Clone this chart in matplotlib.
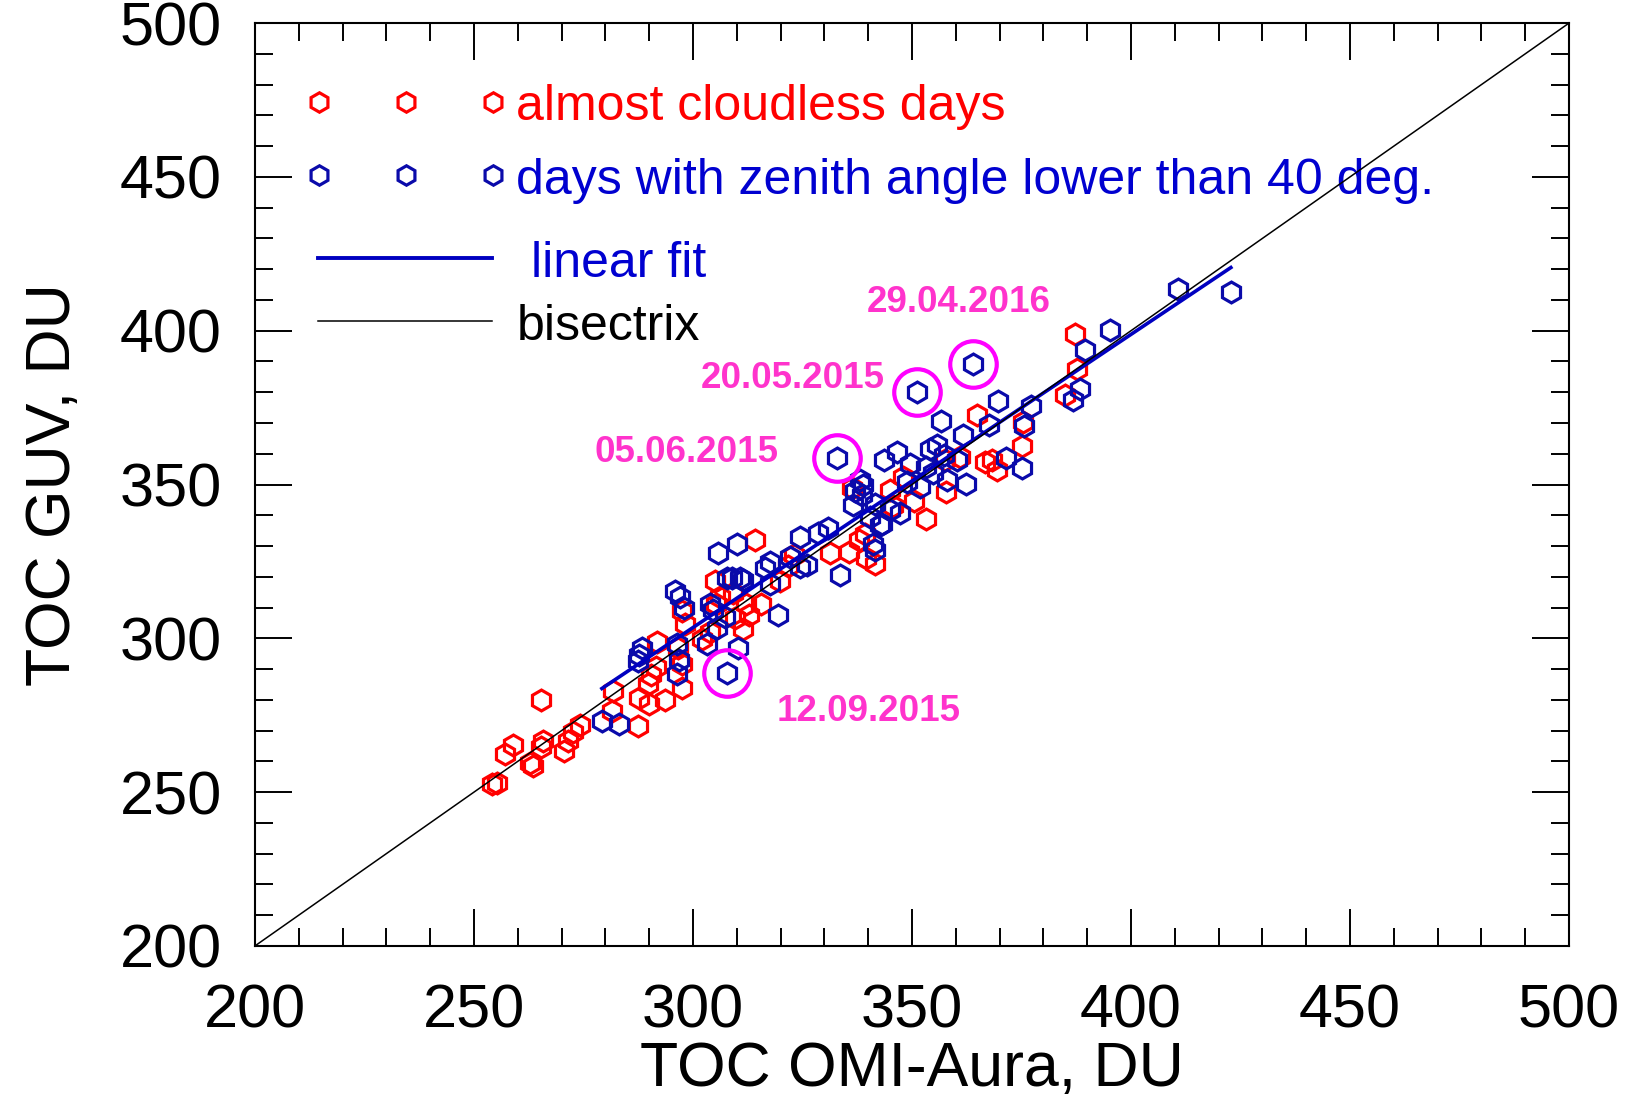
import numpy as np
import matplotlib
matplotlib.use("Agg")
import matplotlib.pyplot as plt
from matplotlib.ticker import MultipleLocator

plt.rcParams['font.family'] = ['Liberation Sans', 'DejaVu Sans']

# ---------------- data ----------------
red_x = [254.0, 255.3, 257.0, 259.0, 262.7, 263.5, 265.3, 265.8, 265.3, 270.5,
         271.5, 272.5, 274.2, 281.8, 281.5, 287.5, 287.7, 290.0, 289.8, 290.5,
         291.5, 293.5, 297.5, 291.8, 297.5, 296.5, 297.6, 298.1, 302.0, 303.8,
         305.2, 305.0, 306.2, 309.2, 311.5, 312.7, 315.6, 309.5, 312.0, 314.2,
         319.8, 321.8, 323.0, 331.3, 335.7, 337.8, 339.6, 341.6, 339.3, 336.3,
         345.0, 345.7, 348.0, 350.5, 353.2, 357.8, 357.5, 361.0, 364.8, 366.7,
         369.5, 368.3, 375.3, 375.2, 385.0, 387.6, 387.2]
red_y = [252.5, 253.0, 262.5, 265.2, 259.5, 258.5, 280.0, 266.5, 264.5, 263.3,
         266.5, 269.5, 271.8, 283.0, 276.5, 271.5, 280.5, 278.5, 285.0, 288.0,
         290.8, 280.0, 283.7, 298.8, 291.5, 297.0, 309.0, 304.7, 299.8, 302.2,
         311.1, 318.6, 313.5, 314.6, 303.0, 307.5, 311.2, 306.5, 311.0, 331.9,
         318.5, 323.5, 327.0, 327.6, 328.1, 332.0, 326.0, 324.3, 334.0, 349.0,
         348.2, 343.0, 352.5, 344.7, 338.8, 347.5, 358.0, 359.0, 372.5, 357.2,
         354.8, 358.0, 370.2, 362.6, 379.0, 387.5, 399.0]

blue_x = [279.2, 283.0, 288.3, 287.7, 287.4, 296.3, 296.7, 296.4, 296.0, 297.0,
          297.9, 303.1, 305.4, 303.9, 304.6, 307.3, 307.7, 310.3, 305.8, 310.0,
          307.7, 308.8, 310.7, 311.5, 316.4, 317.6, 317.6, 319.5, 322.2, 324.4,
          326.0, 324.4, 328.6, 330.9, 333.6, 332.8, 336.6, 338.1, 338.9, 338.5,
          341.6, 340.4, 343.1, 347.3, 341.2, 341.6, 342.7, 345.0, 336.9, 343.5,
          346.5, 348.8, 349.5, 351.8, 353.3, 354.1, 355.6, 357.2, 360.2, 357.9,
          354.9, 362.4, 356.7, 361.7, 367.6, 369.7, 371.4, 375.0, 375.5, 377.1,
          351.1, 364.0, 386.8, 388.4, 389.5, 395.2, 410.8, 422.8]
blue_y = [273.0, 272.3, 296.8, 294.5, 292.5, 288.5, 293.0, 298.3, 315.5, 313.3,
          310.0, 298.3, 303.2, 311.3, 309.2, 307.0, 288.6, 296.7, 327.6, 330.8,
          319.5, 319.5, 319.5, 318.9, 322.7, 324.9, 317.8, 307.5, 326.5, 323.2,
          323.8, 333.0, 334.1, 335.7, 320.5, 358.5, 343.3, 351.4, 349.8, 346.5,
          343.8, 339.5, 337.3, 340.6, 330.8, 328.7, 336.8, 341.7, 347.8, 357.9,
          360.6, 350.9, 356.8, 349.2, 355.7, 361.7, 362.8, 359.5, 357.9, 351.4,
          353.6, 350.3, 370.8, 366.0, 369.3, 377.2, 358.5, 355.3, 369.0, 375.4,
          380.1, 389.3, 377.4, 381.2, 393.7, 400.2, 413.7, 412.6]

# outlier days (circled)
circ_dates = ['29.04.2016', '20.05.2015', '05.06.2015', '12.09.2015']
circ_x = [364.0, 351.1, 332.8, 307.7]
circ_y = [389.3, 380.1, 358.5, 288.6]

# linear fit of the blue set
fit_slope = 0.953
fit_intercept = 17.6
fit_xrange = [279.2, 422.8]

xticks = [200, 250, 300, 350, 400, 450, 500]
yticks = [200, 250, 300, 350, 400, 450, 500]

# ---------------- styles ----------------
RED = '#FF0000'
BLUE_M = '#0A0AAA'
BLUE_T = '#0000D0'
MAG = '#FF00FF'
PINK = '#FF33CC'

fig = plt.figure(figsize=(16.35, 11.05), dpi=100)
ax = fig.add_axes([255/1635, 1-945.9/1105, 1314/1635, 922.8/1105])

ms = 15
mew = 2.3
ax.plot(red_x, red_y, ls='none', marker='h', ms=ms, mfc='none', mec=RED, mew=mew, zorder=2)
ax.plot(blue_x, blue_y, ls='none', marker='h', ms=ms, mfc='none', mec=BLUE_M, mew=mew, zorder=3)

fx = np.array(fit_xrange)
ax.plot(fx, fit_slope*fx + fit_intercept, color='#0000C0', lw=2.6, zorder=4)
ax.plot([200, 500], [200, 500], color='black', lw=1.1, zorder=5)

ax.plot(circ_x, circ_y, ls='none', marker='o', ms=33.5, mfc='none', mec=MAG, mew=3.0, zorder=6)

label_pos = {'29.04.2016': (360.7, 409.3), '20.05.2015': (322.7, 384.4),
             '05.06.2015': (298.6, 360.3), '12.09.2015': (340.2, 276.1)}
for d in circ_dates:
    lx, ly = label_pos[d]
    ax.text(lx, ly, d, color=PINK, fontsize=26.5, fontweight='bold', ha='center', va='center', zorder=7)

# custom legend (axes fraction layout)
T = ax.transAxes
mk_x = [0.0487, 0.1149, 0.1811]
lms = 14
ax.plot(mk_x, [0.9148]*3, transform=T, ls='none', marker='h', ms=lms, mfc='none', mec=RED, mew=mew, clip_on=False)
ax.plot(mk_x, [0.8354]*3, transform=T, ls='none', marker='h', ms=lms, mfc='none', mec=BLUE_M, mew=mew, clip_on=False)
ax.text(0.1986, 0.895, 'almost cloudless days', transform=T, color=RED, fontsize=36, va='baseline', ha='left')
ax.text(0.1986, 0.8145, 'days with zenith angle lower than 40 deg.', transform=T, color=BLUE_T, fontsize=36, va='baseline', ha='left')
ax.plot([0.0479, 0.1804], [0.7458]*2, transform=T, color='#0000C0', lw=2.8)
ax.text(0.2097, 0.7245, 'linear fit', transform=T, color=BLUE_T, fontsize=36, va='baseline', ha='left')
ax.plot([0.0479, 0.1804], [0.6772]*2, transform=T, color='black', lw=1.1)
ax.text(0.1994, 0.6566, 'bisectrix', transform=T, color='black', fontsize=36, va='baseline', ha='left')

ax.set_xlim(200, 500)
ax.set_ylim(200, 500)
ax.set_xticks(xticks)
ax.set_yticks(yticks)
ax.xaxis.set_minor_locator(MultipleLocator(10))
ax.yaxis.set_minor_locator(MultipleLocator(10))
ax.tick_params(which='both', direction='in', top=True, right=True, width=1.4, colors='black')
ax.tick_params(which='major', length=26.5, labelsize=44)
ax.tick_params(which='minor', length=13)
ax.tick_params(axis='x', which='major', pad=27)
ax.tick_params(axis='y', which='major', pad=24)
for s in ax.spines.values():
    s.set_linewidth(1.5)

ax.set_xlabel('TOC OMI-Aura, DU', fontsize=45, labelpad=0)
ax.set_ylabel('TOC GUV, DU', fontsize=45, labelpad=26)

fig.savefig('out.png', dpi=100)
